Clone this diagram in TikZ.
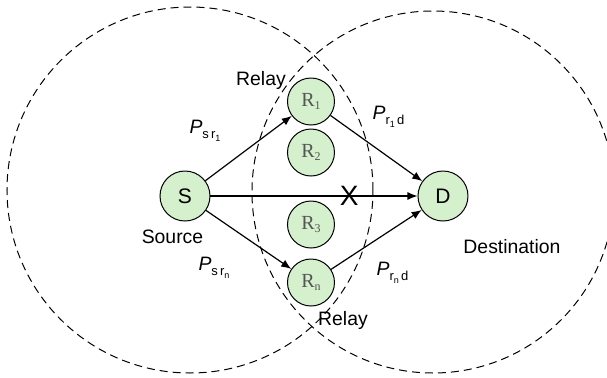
\documentclass[tikz,border=0pt]{standalone}
\usepackage{fontspec}
\setmainfont{Liberation Sans}
\newfontfamily\relayfont{Liberation Serif}
\usetikzlibrary{positioning,arrows.meta}

\definecolor{nodegreen}{RGB}{212,240,204}
\definecolor{relaygray}{RGB}{85,85,85}

\newcommand{\sublab}[1]{\raisebox{-0.45ex}{\fontsize{6.5}{7}\selectfont #1}}
\newcommand{\ssublab}[1]{\raisebox{-0.5ex}{\fontsize{4.5}{5}\selectfont #1}}
\newcommand{\rlab}[1]{R\raisebox{-0.35ex}{\fontsize{6}{7}\selectfont #1}}

\begin{document}
\begin{tikzpicture}[x=1pt,y=1pt,on grid,>={Latex[length=5pt,width=4pt]},
    station/.style={circle,draw,line width=0.5pt,fill=nodegreen,minimum size=25pt,inner sep=0pt,font=\fontsize{10.5}{12}\selectfont},
    relay/.style={station,minimum size=23.5pt,text=relaygray,font=\relayfont\fontsize{10}{12}\selectfont},
    coverage/.style={dash pattern=on 4pt off 2.5pt,line width=0.5pt},
    lab/.style={font=\fontsize{9.7}{11}\selectfont},
    link/.style={->,line width=0.6pt}]
    \useasboundingbox (-92.5,-90.5) rectangle (211,98);
    \clip (-92.5,-90.5) rectangle (211,98);

    % transmission ranges
    \draw[coverage] (2.5,3) circle (91.5pt);
    \draw[coverage] (124,2) circle (90.5pt);

    \node[station] (S)                                     {S};
    \node[station] (D)  [right=129pt of S]                 {D};
    \node[relay]   (R1) [above right=47.25pt and 63pt of S] {\rlab{1}};
    \node[relay]   (R2) [below=25.5pt of R1]                {\rlab{2}};
    \node[relay]   (Rn) [below right=43.25pt and 63pt of S] {\rlab{n}};
    \node[relay]   (R3) [above=29pt of Rn]                  {\rlab{3}};

    \path[link] (S)  edge (R1)
                (S)  edge (Rn)
                (R1) edge (D)
                (Rn) edge (D)
                (S)  edge node[pos=0.67,font=\fontsize{14}{16}\selectfont] (X) {X} (D);

    \node[lab] (relaytop) [above left=10.75pt and 25pt of R1]   {Relay};
    \node[lab] (relaybot) [below right=18.75pt and 16pt of Rn]  {Relay};
    \node[lab] (source)   [below left=20.5pt and 6.25pt of S]   {Source};
    \node[lab] (dest)     [below right=25.5pt and 34.5pt of D]  {Destination};

    \node[lab] (psr1) [above right=32.5pt and 10pt of S]   {\textit{P}\sublab{s\,r\ssublab{1}}};
    \node[lab] (psrn) [below right=36pt and 14.5pt of S]   {\textit{P}\sublab{s\,r\ssublab{n}}};
    \node[lab] (pr1d) [above left=39.5pt and 27.25pt of D] {\textit{P}\sublab{r\ssublab{1}\,d}};
    \node[lab] (prnd) [below left=38.5pt and 25.25pt of D] {\textit{P}\sublab{r\ssublab{n}\,d}};
\end{tikzpicture}
\end{document}
